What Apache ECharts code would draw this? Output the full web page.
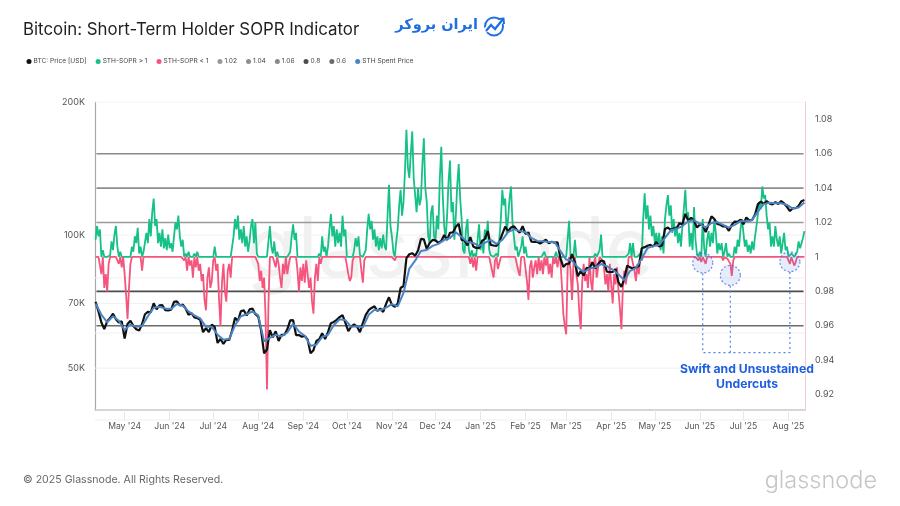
<!DOCTYPE html>
<html><head><meta charset="utf-8">
<style>html,body{margin:0;padding:0;background:#fff}#c{width:900px;height:506px}</style>
<script src="https://cdn.jsdelivr.net/npm/echarts@6/dist/echarts.min.js"></script>
</head><body><div id="c"></div>
<script>
const monthLabels = ["May '24","Jun '24","Jul '24","Aug '24","Sep '24","Oct '24","Nov '24","Dec '24","Jan '25","Feb '25","Mar '25","Apr '25","May '25","Jun '25","Jul '25","Aug '25"];
const monthStarts = ["2024-05-01","2024-06-01","2024-07-01","2024-08-01","2024-09-01","2024-10-01","2024-11-01","2024-12-01","2025-01-01","2025-02-01","2025-03-01","2025-04-01","2025-05-01","2025-06-01","2025-07-01","2025-08-01"];
const priceTicks = [50000,70000,100000,200000];
const priceGuides = [50000,60000,70000,80000,100000,200000];
const soprTicks = [0.92,0.94,0.96,0.98,1,1.02,1.04,1.06,1.08];
const firstDay = "2024-04-11";
// STH-SOPR, one reading per day
const sopr = [1.010,1.018,1.012,1.016,0.990,1.004,0.982,0.990,0.980,0.996,1.001,1.009,1.004,1.013,1.018,1.006,0.996,1.003,0.994,1.001,0.990,0.978,0.964,0.982,0.996,1.006,1.003,1.012,1.008,1.017,1.002,1.006,0.992,1.003,1.002,1.014,1.008,1.022,1.012,1.026,
1.034,1.018,1.022,1.008,1.014,1.006,1.016,1.005,1.011,1.004,1.013,1.005,1.008,1.003,1.012,1.020,1.016,1.024,1.012,1.006,1.010,0.998,1.002,0.992,1.003,0.995,0.998,0.988,1.002,0.994,1.003,0.992,0.996,0.986,0.990,0.975,0.969,0.988,0.994,0.982,
0.986,0.998,1.006,0.992,0.996,0.975,0.960,0.985,0.996,0.980,0.974,0.992,0.996,0.988,1.000,1.012,1.022,1.016,1.024,1.010,1.016,1.008,1.018,1.006,1.012,1.003,1.009,1.018,1.022,1.008,1.020,1.002,0.996,0.986,0.992,0.982,0.988,0.966,0.923,0.972,
1.018,1.006,1.002,1.009,0.994,1.003,0.996,0.988,0.982,0.996,0.990,1.001,0.990,0.996,1.003,1.012,1.019,1.010,1.014,0.992,0.980,0.994,0.986,0.996,0.985,0.998,0.990,0.982,0.988,0.974,0.967,0.988,0.996,0.986,1.002,0.996,1.012,1.003,1.006,1.000,
1.006,1.016,1.025,1.012,1.018,1.006,1.016,1.008,1.014,1.006,1.024,1.012,1.016,1.000,0.990,0.986,0.988,0.998,1.004,1.011,1.006,1.012,1.001,0.992,0.985,0.998,1.004,1.016,1.025,1.016,1.021,1.010,1.016,1.006,1.012,1.004,1.011,1.005,1.013,1.006,
1.004,1.024,1.042,1.018,1.012,1.003,0.998,1.009,1.016,1.030,1.039,1.024,1.032,1.050,1.074,1.052,1.046,1.060,1.073,1.046,1.036,1.026,1.040,1.030,1.034,1.054,1.069,1.040,1.032,1.012,1.008,1.026,1.030,1.012,1.009,1.024,1.016,1.046,1.064,1.036,
1.018,1.010,1.024,1.044,1.056,1.026,1.032,1.010,1.024,1.042,1.054,1.034,1.022,1.004,1.002,1.016,1.022,1.004,0.996,1.004,0.994,1.002,0.992,1.010,1.019,1.004,1.010,1.002,1.016,1.010,1.021,1.004,1.001,0.992,0.988,0.998,1.002,0.993,0.992,1.022,
1.039,1.030,1.034,1.014,1.022,1.034,1.041,1.020,1.012,1.004,1.006,0.992,0.989,1.006,1.012,1.002,1.006,0.986,0.975,0.994,0.998,0.988,0.994,0.998,0.990,1.000,0.992,0.998,0.990,1.003,0.995,1.001,0.990,0.996,0.988,1.000,0.996,1.003,0.994,1.001,
0.998,0.984,0.967,0.960,0.955,0.994,1.021,0.992,0.975,0.996,1.010,0.990,0.984,0.968,0.958,0.985,0.996,0.986,0.990,0.982,1.000,0.986,0.980,0.996,1.002,0.988,0.994,1.004,1.013,0.998,0.994,0.984,0.990,0.980,0.996,0.984,0.973,0.990,0.984,0.994,
0.980,0.970,0.958,0.982,0.992,0.984,0.990,1.002,1.008,1.000,1.008,0.992,0.986,0.996,0.990,1.002,0.998,1.022,1.037,1.022,1.030,1.016,1.024,1.012,1.018,1.008,1.014,1.006,1.014,1.004,1.012,1.002,1.022,1.030,1.036,1.024,1.030,1.014,1.022,1.012,
1.018,1.008,1.014,1.006,1.018,1.028,1.039,1.022,1.026,1.006,1.014,1.004,1.029,1.010,1.002,0.998,1.003,0.997,1.022,1.005,0.996,1.010,1.015,1.006,1.014,1.008,1.022,1.014,1.002,1.008,1.004,1.008,0.998,1.003,1.008,0.999,1.002,0.996,0.989,0.998,
1.006,1.002,1.010,1.006,1.016,1.022,1.014,1.006,1.010,1.003,1.007,1.002,1.009,1.004,1.012,1.018,1.025,1.032,1.028,1.041,1.034,1.036,1.024,1.016,1.020,1.006,1.012,1.006,1.018,1.010,1.006,1.012,1.002,1.008,1.014,1.004,1.006,0.998,0.996,1.002,
1.001,0.995,0.997,1.003,1.009,1.005,1.008,1.011,1.015];
// BTC price in USD thousands, one reading every 2 days
const btcPrice = [70.6,67.2,63.4,61.3,63.8,64.9,66.4,64.5,63.4,63.8,
58.3,62.9,64.0,62.3,61.2,60.8,62.9,66.2,67.0,66.9,70.1,67.9,69.3,69.4,67.6,67.5,
67.8,70.6,70.8,69.3,69.6,68.2,66.0,66.6,65.1,64.9,64.3,60.3,61.6,60.3,62.7,
62.0,57.0,58.2,56.7,58.0,57.9,60.8,65.0,63.9,67.2,67.6,65.8,67.9,68.2,66.2,
65.4,60.7,54.0,55.1,60.9,58.7,60.6,57.6,59.5,59.5,61.2,64.1,64.2,59.4,59.4,58.9,
59.1,58.0,54.0,54.9,57.6,58.1,60.0,58.2,60.3,63.2,63.6,64.3,65.2,65.9,63.3,
60.6,62.1,62.8,62.1,60.3,63.2,66.0,67.6,68.4,69.0,67.4,68.2,67.0,69.9,72.3,
69.5,68.8,70.0,75.9,76.7,88.7,90.5,91.0,89.8,92.3,98.0,97.8,93.0,96.0,97.5,
97.3,96.0,97.0,100.0,97.5,101.2,101.4,104.4,106.1,97.5,97.2,94.7,99.0,94.2,93.5,93.4,
96.9,98.1,102.1,95.0,94.7,94.5,96.5,100.5,104.5,102.0,104.0,104.7,102.7,101.3,104.7,
100.6,101.4,96.6,96.5,96.5,95.7,96.6,97.6,95.8,96.6,96.1,96.3,88.7,84.7,
86.0,86.2,90.6,86.7,80.7,82.9,81.0,84.3,84.0,86.8,84.1,86.0,87.5,87.2,82.6,82.5,
82.5,83.8,78.2,76.3,79.6,85.3,84.5,84.0,84.5,85.1,93.4,93.9,94.6,95.0,94.2,
96.5,94.3,94.7,103.2,104.0,102.8,103.5,103.5,106.4,105.6,111.7,107.8,109.4,107.8,104.0,
105.6,105.4,101.6,105.6,110.2,108.7,106.0,105.5,104.6,104.6,102.2,105.5,107.3,107.1,108.4,
105.7,109.6,108.0,108.2,111.3,117.5,119.1,117.7,119.3,117.9,117.3,118.7,117.6,119.4,117.9,115.8,
113.3,115.0,115.0,116.5,119.3,120.0];
// STH spent price in USD thousands, one reading every 4 days
const spentPrice = [70.0,66.0,63.5,65.5,64.0,61.0,62.8,62.0,62.3,65.5,68.5,68.8,68.2,68.0,69.8,69.2,67.2,65.8,64.8,62.0,62.0,
59.5,58.0,58.2,62.5,65.5,66.2,67.2,65.8,57.5,58.5,59.5,59.0,60.2,63.0,60.5,59.2,56.2,56.5,58.8,59.5,62.5,64.5,64.2,
62.0,62.2,61.8,66.0,67.8,67.6,68.5,69.8,69.0,74.0,84.0,87.5,92.0,92.5,94.5,95.5,97.5,98.5,101.5,99.0,96.5,96.0,94.5,
96.0,97.5,95.5,97.5,101.5,103.0,102.2,101.5,98.5,97.0,96.8,96.5,96.5,92.0,88.0,87.5,84.5,82.5,84.0,84.5,86.0,85.0,
83.5,81.5,79.0,83.0,84.2,88.5,93.5,94.4,95.0,98.5,102.5,103.3,104.8,107.5,108.0,106.0,104.0,106.5,107.0,105.5,104.0,105.5,107.5,
107.5,108.2,113.0,117.5,118.3,118.0,118.0,117.0,114.8,115.5,118.5];
const levelNames = ["1.02","1.04","1.06","0.8","0.6"];
const levelValues = [1.02,1.04,1.06,0.98,0.96];
const levelColors = ["#9a9a9a","#8e8e8e","#8a8a8a","#4c4c4c","#6a6a6a"];
const undercutDates = ["2025-06-03","2025-06-22","2025-08-02"];
const undercutValues = [0.9965,0.9893,0.9972];
const calloutFloor = 0.9444;

const DAY = 86400000;
const t0 = Date.parse(firstDay);
const at = (i, step) => t0 + i * step * DAY;
const xMin = t0 - 0.4 * DAY, xMax = t0 + 488.4 * DAY;
const tickMs = monthStarts.map(d => Date.parse(d));
const font = 'Inter, "Noto Sans", sans-serif';

const lineDefaults = {type:'line', showSymbol:false, symbol:'none', silent:true, animation:false};
const sopr_hi = sopr.map((v,i)=>[at(i,1), Math.max(v,1)]);
const sopr_lo = sopr.map((v,i)=>[at(i,1), Math.min(v,1)]);

const series = [];
priceGuides.forEach(v => series.push({...lineDefaults, name:'guide', yAxisIndex:0, lineStyle:{color:'#f1f1f1',width:1}, data:[[xMin,v],[xMax,v]], z:1}));
levelNames.forEach((n,k) => series.push({...lineDefaults, name:n, yAxisIndex:1, itemStyle:{color:levelColors[k]}, lineStyle:{color:levelColors[k],width:1.6}, data:[[xMin+DAY,levelValues[k]],[xMax-DAY,levelValues[k]]], z:2}));
series.push({...lineDefaults, name:'STH-SOPR > 1', yAxisIndex:1, itemStyle:{color:'#15c187'}, lineStyle:{color:'#15c187',width:1.8}, data:sopr_hi, z:3});
series.push({...lineDefaults, name:'STH-SOPR < 1', yAxisIndex:1, itemStyle:{color:'#f5557c'}, lineStyle:{color:'#f5557c',width:1.8}, data:sopr_lo, z:4});
series.push({...lineDefaults, name:'BTC: Price [USD]', yAxisIndex:0, itemStyle:{color:'#111'}, lineStyle:{color:'#111',width:2.2}, data:btcPrice.map((v,i)=>[at(i,2),v*1000]), z:5});
series.push({...lineDefaults, name:'STH Spent Price', yAxisIndex:0, itemStyle:{color:'#4b84c4'}, lineStyle:{color:'#4b84c4',width:2}, data:spentPrice.map((v,i)=>[at(i,4),v*1000]), z:6});
const d = undercutDates.map(s=>Date.parse(s));
series.push({...lineDefaults, name:'callout', yAxisIndex:1, lineStyle:{color:'#4f86e8',width:1.2,type:[2,3]}, z:7,
  data:[[d[0],undercutValues[0]-0.006],[d[0],calloutFloor],[d[2],calloutFloor],[d[2],undercutValues[2]-0.006]]});
series.push({...lineDefaults, name:'callout', yAxisIndex:1, lineStyle:{color:'#4f86e8',width:1.2,type:[2,3]}, z:7,
  data:[[d[1],undercutValues[1]-0.006],[d[1],calloutFloor]]});
series.push({type:'scatter', name:'undercut', yAxisIndex:1, symbol:'circle', symbolSize:20, silent:true, animation:false, z:8,
  itemStyle:{color:'rgba(90,125,230,0.18)',borderColor:'#4372e6',borderWidth:1.2,borderType:[2,2]},
  data:d.map((x,i)=>[x,undercutValues[i]])});

const chart = echarts.init(document.getElementById('c'), null, {renderer:'canvas'});
chart.setOption({
  animation:false, backgroundColor:'#fff',
  grid:{left:95,right:95,top:102,bottom:96,show:false},
  legend:{left:26.5,top:58,padding:0,itemWidth:5,itemHeight:5,itemGap:9,icon:'circle',selectedMode:false,
    textStyle:{fontFamily:font,fontSize:6.6,color:'#444',padding:[0,0,0,-3]},
    data:['BTC: Price [USD]','STH-SOPR > 1','STH-SOPR < 1','1.02','1.04','1.06','0.8','0.6','STH Spent Price']},
  xAxis:{type:'value',min:xMin,max:xMax,scale:true,
    axisLine:{onZero:false,lineStyle:{color:'#c9c9c9',width:1.5}},
    axisTick:{show:true,length:10,lineStyle:{color:'#e8e8e8'},customValues:tickMs},
    axisLabel:{customValues:tickMs,margin:12,fontFamily:font,fontSize:8.6,color:'#555',hideOverlap:false,
      formatter:v=>monthLabels[tickMs.indexOf(v)]||''},
    splitLine:{show:false}},
  yAxis:[
    {type:'log',logBase:10,position:'left',min:40200,max:200000,
     axisLine:{show:true,onZero:false,lineStyle:{color:'#a8a8a8',width:1.2}},axisTick:{show:false},splitLine:{show:false},minorSplitLine:{show:false},
     axisLabel:{customValues:priceTicks,margin:10,fontFamily:font,fontSize:9,color:'#555',formatter:v=>Math.round(v/1000)+'K'}},
    {type:'value',position:'right',min:0.911,max:1.0901,
     axisLine:{show:true,onZero:false,lineStyle:{color:'#f2cdd5',width:1}},axisTick:{show:false},splitLine:{show:false},
     axisLabel:{customValues:soprTicks,margin:10,fontFamily:font,fontSize:9,color:'#555',formatter:v=>String(+v.toFixed(2))}}
  ],
  series,
  graphic:[
    {type:'text',z:0,style:{x:450,y:252,text:'glassnode',align:'center',verticalAlign:'middle',fontFamily:font,fontSize:84,fontWeight:400,fill:'#f1f1f1'},silent:true},
    {type:'line',shape:{x1:95,y1:420,x2:805,y2:420},style:{stroke:'#efefef',lineWidth:1}},
    {type:'text',style:{x:23,y:30,text:'Bitcoin: Short-Term Holder SOPR Indicator',verticalAlign:'middle',fontFamily:font,fontSize:16.85,fill:'#1f1f1f'}},
    {type:'text',style:{x:478,y:25,text:'ایران بروکر',align:'right',verticalAlign:'middle',fontFamily:'"DejaVu Sans"',fontSize:14.5,fontWeight:'bold',fill:'#1f6fe0'}},
    {type:'circle',shape:{cx:494,cy:26.5,r:9},style:{fill:'none',stroke:'#1f6fe0',lineWidth:2}},
    {type:'polyline',shape:{points:[[485,31],[491,25],[495,29],[503,19]]},style:{fill:'none',stroke:'#fff',lineWidth:5}},
    {type:'polyline',shape:{points:[[486,31],[491,25],[495,29],[503,19]]},style:{fill:'none',stroke:'#1f6fe0',lineWidth:2.2}},
    {type:'polyline',shape:{points:[[498,19],[503.5,18.5],[504,24]]},style:{fill:'none',stroke:'#1f6fe0',lineWidth:2}},
    {type:'text',z:20,style:{x:747,y:369.5,text:'Swift and Unsustained',align:'center',verticalAlign:'middle',fontFamily:font,fontSize:12.2,fontWeight:700,fill:'#1d5fe0'}},
    {type:'text',z:20,style:{x:747,y:384.5,text:'Undercuts',align:'center',verticalAlign:'middle',fontFamily:font,fontSize:12.2,fontWeight:700,fill:'#1d5fe0'}},
    {type:'text',style:{x:23,y:480,text:'© 2025 Glassnode. All Rights Reserved.',verticalAlign:'middle',fontFamily:font,fontSize:10.6,fill:'#666'}},
    {type:'text',style:{x:877,y:481,text:'glassnode',align:'right',verticalAlign:'middle',fontFamily:font,fontSize:23.5,fontWeight:300,fill:'#c6c6c6'}}
  ]
});
</script></body></html>
